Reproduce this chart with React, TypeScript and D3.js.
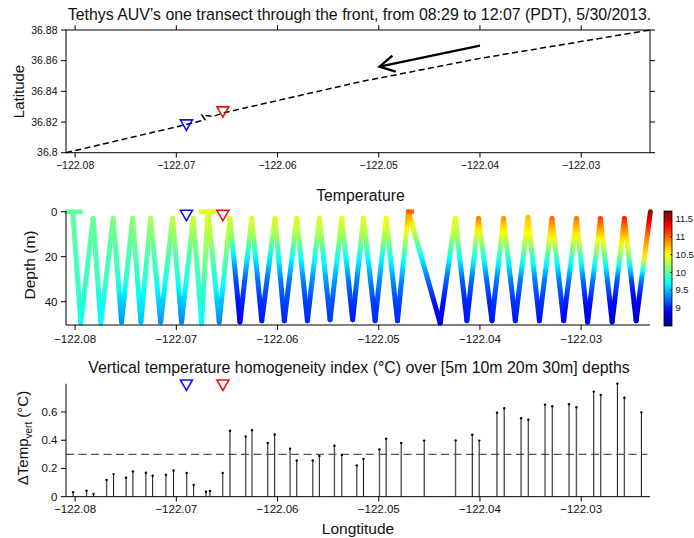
import React from 'react';
import * as d3 from 'd3';

const WIDTH = 694;
const HEIGHT = 538;
const FONT = '"Liberation Sans", Arial, Helvetica, sans-serif';

// shared longitude axis
const LON_DOMAIN = [-122.0809, -122.0232];
const LON_TICKS = [-122.08, -122.07, -122.06, -122.05, -122.04, -122.03];

// panel 1: track map
const LAT_TICKS = [36.8, 36.82, 36.84, 36.86, 36.88];
const TRACK_LON = [-122.0809, -122.069, -122.06717, -122.06747, -122.06638, -122.0654, -122.0518, -122.04, -122.0232];
const TRACK_LAT = [36.8, 36.8184, 36.8215, 36.82458, 36.8236, 36.8259, 36.8463, 36.8615, 36.88];
const ARROW_LON = [-122.04, -122.04993];
const ARROW_LAT = [36.8698, 36.8561];
const MARKER_LON = [-122.069, -122.0654];
const MARKER_LAT = [36.818, 36.8265];
const MARKER_COLORS = ['#1010ee', '#ee1010'];

// panel 2: yo-yo temperature section
const DEPTH_TICKS = [0, 20, 40];
const TEMP_TICKS = [9, 9.5, 10, 10.5, 11, 11.5];
const TEMP_DOMAIN = [8.49, 11.73];
const TEMP_LEVELS = [0, 10, 20, 30, 40, 50];
const PATH_LON = [
  -122.08023, -122.07944, -122.07822, -122.07746, -122.07624, -122.07541, -122.07432, -122.0735,
  -122.07254, -122.07155, -122.07037, -122.06948, -122.06833, -122.0675, -122.06687, -122.06576,
  -122.0647, -122.06371, -122.06255, -122.06156, -122.06025, -122.05933, -122.0581, -122.05705,
  -122.05587, -122.05481, -122.05365, -122.05258, -122.05151, -122.05036, -122.04927, -122.04815,
  -122.04706, -122.04393, -122.04244, -122.04129, -122.04014, -122.03881, -122.03767, -122.03651,
  -122.03525, -122.03413, -122.03288, -122.03173, -122.03047, -122.02936, -122.0281, -122.02694,
  -122.02573, -122.02457, -122.02316,
];
const PATH_DEPTH = [
  0, 49.5, 3, 49.5, 3, 49, 3, 49, 3, 49, 3, 49, 3, 49.5, 0, 49, 3, 49, 3, 48.5, 3, 48.5, 3, 48.5,
  3, 48, 3, 48, 3, 48.5, 3, 48.5, 0, 49.5, 3, 48.5, 3, 48.5, 3, 48.5, 2.5, 48.5, 3, 48.5, 3, 49,
  3, 49, 3, 48.5, 0,
];
// temperature at TEMP_LEVELS for each leg between consecutive path vertices
const LEG_TEMPS = [
  [10.0, 10.0, 9.95, 9.9, 9.85, 9.8],
  [10.05, 10.0, 9.95, 9.9, 9.8, 9.75],
  [10.05, 10.0, 9.95, 9.9, 9.75, 9.7],
  [10.1, 10.05, 9.95, 9.9, 9.75, 9.7],
  [10.15, 10.05, 9.95, 9.85, 9.55, 9.35],
  [10.2, 10.05, 9.95, 9.85, 9.55, 9.35],
  [10.2, 10.1, 9.95, 9.85, 9.65, 9.5],
  [10.25, 10.1, 9.95, 9.85, 9.65, 9.5],
  [10.3, 10.15, 9.95, 9.8, 9.55, 9.35],
  [10.3, 10.15, 9.95, 9.8, 9.55, 9.35],
  [10.35, 10.2, 9.95, 9.8, 9.5, 9.25],
  [10.35, 10.2, 9.95, 9.8, 9.55, 9.3],
  [10.4, 10.2, 10.0, 9.9, 9.8, 9.7],
  [10.45, 10.3, 10.1, 9.95, 9.8, 9.7],
  [10.4, 10.3, 10.0, 9.8, 9.55, 9.35],
  [10.45, 10.3, 10.0, 9.8, 9.5, 9.3],
  [10.45, 10.2, 9.6, 9.15, 8.95, 8.8],
  [10.45, 10.25, 9.7, 9.2, 9.0, 8.85],
  [10.45, 10.25, 9.7, 9.25, 9.05, 8.95],
  [10.45, 10.25, 9.7, 9.25, 9.05, 8.95],
  [10.45, 10.25, 9.75, 9.3, 9.1, 9.0],
  [10.45, 10.25, 9.75, 9.3, 9.1, 9.0],
  [10.45, 10.25, 9.75, 9.3, 9.1, 9.0],
  [10.45, 10.25, 9.75, 9.35, 9.1, 9.0],
  [10.45, 10.25, 9.8, 9.4, 9.15, 9.05],
  [10.45, 10.25, 9.8, 9.4, 9.15, 9.05],
  [10.5, 10.25, 9.75, 9.3, 9.05, 8.95],
  [10.5, 10.25, 9.75, 9.3, 9.05, 8.95],
  [10.5, 10.25, 9.75, 9.35, 9.1, 9.0],
  [10.55, 10.3, 9.75, 9.35, 9.1, 9.0],
  [10.55, 10.3, 9.8, 9.35, 9.1, 9.0],
  [10.95, 10.4, 9.85, 9.35, 9.1, 9.0],
  [10.9, 10.25, 9.7, 9.25, 8.95, 8.85],
  [10.5, 10.3, 9.75, 9.2, 8.95, 8.85],
  [10.5, 10.3, 9.75, 9.2, 9.0, 8.9],
  [11.15, 10.4, 9.8, 9.25, 9.0, 8.95],
  [11.15, 10.4, 9.8, 9.25, 9.0, 8.95],
  [11.0, 10.45, 9.85, 9.3, 9.05, 8.95],
  [11.0, 10.45, 9.85, 9.3, 9.05, 8.95],
  [10.8, 10.5, 9.9, 9.3, 9.05, 8.95],
  [10.8, 10.5, 9.9, 9.3, 9.05, 8.95],
  [11.15, 10.6, 9.9, 9.3, 9.05, 8.9],
  [11.15, 10.6, 9.9, 9.3, 9.05, 8.9],
  [11.1, 10.55, 9.9, 9.3, 9.0, 8.85],
  [11.1, 10.55, 9.9, 9.25, 8.95, 8.75],
  [11.3, 10.65, 10.0, 9.3, 8.95, 8.75],
  [11.3, 10.65, 10.0, 9.3, 8.95, 8.8],
  [11.4, 10.75, 10.1, 9.2, 8.9, 8.75],
  [11.4, 10.75, 10.1, 9.15, 8.8, 8.65],
  [11.65, 11.0, 10.55, 9.3, 8.85, 8.65],
];
const SURFACE_LON_START = [-122.08102, -122.06776, -122.04729];
const SURFACE_LON_END = [-122.07924, -122.06598, -122.0465];
const SURFACE_TEMP = [10.0, 10.4, 11.0];
const SECTION_MARKER_DEPTH = 1.7;

// panel 3: homogeneity index stems
const DT_TICKS = [0, 0.2, 0.4, 0.6];
const THRESHOLD = 0.3;
const STEM_LON = [
  -122.0802, -122.07887, -122.07818, -122.07689, -122.0762, -122.07496, -122.07429, -122.07301,
  -122.07234, -122.07103, -122.07027, -122.06898, -122.06829, -122.06707, -122.06668, -122.06542,
  -122.0647, -122.06315, -122.06252, -122.06097, -122.06028, -122.05876, -122.0581, -122.05652,
  -122.05587, -122.05438, -122.05365, -122.05217, -122.05151, -122.04993, -122.04927, -122.04778,
  -122.04551, -122.04241, -122.04076, -122.04007, -122.03832, -122.0376, -122.03594, -122.03522,
  -122.03357, -122.03285, -122.0312, -122.03047, -122.02876, -122.02807, -122.02642, -122.02573,
  -122.02405,
];
const STEM_VAL = [
  0.031, 0.042, 0.019, 0.118, 0.16, 0.135, 0.179, 0.17, 0.149, 0.156, 0.186, 0.168, 0.083, 0.035,
  0.04, 0.168, 0.467, 0.427, 0.47, 0.38, 0.441, 0.34, 0.257, 0.257, 0.288, 0.361, 0.295, 0.222,
  0.267, 0.335, 0.411, 0.38, 0.397, 0.399, 0.439, 0.397, 0.595, 0.626, 0.555, 0.545, 0.652, 0.64,
  0.654, 0.633, 0.744, 0.72, 0.8, 0.701, 0.597,
];
const STEM_MARKER_VAL = 0.789;

function jet(t: number) {
  const c = (v: number) => Math.max(0, Math.min(1, v));
  const r = c(1.5 - Math.abs(4 * t - 3));
  const g = c(1.5 - Math.abs(4 * t - 2));
  const b = c(1.5 - Math.abs(4 * t - 1));
  return d3.rgb(r * 255, g * 255, b * 255).formatHex();
}

const fmtLon = d3.format('.2f');

function triangle(cx: number, cy: number) {
  const w = 6;
  const h = 5.2;
  return `M${cx - w},${cy - h}L${cx + w},${cy - h}L${cx},${cy + h}Z`;
}

export default function App() {
  const x = d3.scaleLinear().domain(LON_DOMAIN).range([66, 650]);
  const yLat = d3.scaleLinear().domain([36.8, 36.88]).range([152.7, 30]);
  const yDep = d3.scaleLinear().domain([0, 50.36]).range([211.7, 325]);
  const yDt = d3.scaleLinear().domain([0, 0.8]).range([496.7, 383.7]);
  const tNorm = d3.scaleLinear().domain(TEMP_DOMAIN).range([0, 1]).clamp(true);
  const tColor = (v: number) => jet(tNorm(v));
  const yBar = d3.scaleLinear().domain(TEMP_DOMAIN).range([326, 211]);

  const trackLine = d3
    .line<number>()
    .x((d) => x(TRACK_LON[d]))
    .y((d) => yLat(TRACK_LAT[d]))(TRACK_LON.map((_, i) => i));

  // arrow
  const ax0 = x(ARROW_LON[0]);
  const ay0 = yLat(ARROW_LAT[0]);
  const ax1 = x(ARROW_LON[1]);
  const ay1 = yLat(ARROW_LAT[1]);
  const ang = Math.atan2(ay0 - ay1, ax0 - ax1);
  const barb = 17;
  const spread = 0.5;
  const arrowHead = `M${ax1 + barb * Math.cos(ang + spread)},${ay1 + barb * Math.sin(ang + spread)}L${ax1},${ay1}L${ax1 + barb * Math.cos(ang - spread)},${ay1 + barb * Math.sin(ang - spread)}`;

  const legs = LEG_TEMPS.map((temps, i) => {
    const d0 = PATH_DEPTH[i];
    const d1 = PATH_DEPTH[i + 1];
    const tAt = d3.scaleLinear().domain(TEMP_LEVELS).range(temps);
    const stops = d3.range(0, 21).map((k) => {
      const f = k / 20;
      return { offset: f, color: tColor(tAt(d0 + f * (d1 - d0))) };
    });
    return {
      id: `leg-${i}`,
      x1: x(PATH_LON[i]),
      y1: yDep(d0),
      x2: x(PATH_LON[i + 1]),
      y2: yDep(d1),
      stops,
    };
  });

  const barStops = d3.range(0, 41).map((k) => ({ offset: k / 40, color: jet(1 - k / 40) }));

  const axisText = { fontFamily: FONT, fill: '#111' } as const;

  return (
    <svg
      width={WIDTH}
      height={HEIGHT}
      style={{ position: 'absolute', left: 0, top: 0, background: '#fff' }}
      fontFamily={FONT}
    >
      <defs>
        {legs.map((l) => (
          <linearGradient
            key={l.id}
            id={l.id}
            gradientUnits="userSpaceOnUse"
            x1={l.x1}
            y1={l.y1}
            x2={l.x2}
            y2={l.y2}
          >
            {l.stops.map((s, k) => (
              <stop key={k} offset={s.offset} stopColor={s.color} />
            ))}
          </linearGradient>
        ))}
        <linearGradient id="cbar" x1="0" y1="0" x2="0" y2="1">
          {barStops.map((s, k) => (
            <stop key={k} offset={s.offset} stopColor={s.color} />
          ))}
        </linearGradient>
      </defs>

      {/* ---------- panel 1: track ---------- */}
      <text x={359.5} y={19.8} textAnchor="middle" fontSize={15.9} {...axisText}>
        Tethys AUV’s one transect through the front, from 08:29 to 12:07 (PDT), 5/30/2013.
      </text>
      <rect x={66} y={30} width={584} height={122.7} fill="none" stroke="#000" strokeWidth={1} />
      {LON_TICKS.map((t) => (
        <g key={`t1x-${t}`}>
          <line x1={x(t)} x2={x(t)} y1={152.7} y2={157.5} stroke="#000" />
          <line x1={x(t)} x2={x(t)} y1={30} y2={25.2} stroke="#000" />
          <text x={x(t)} y={169} textAnchor="middle" fontSize={10.5} {...axisText}>
            {fmtLon(t)}
          </text>
        </g>
      ))}
      {LAT_TICKS.map((t) => (
        <g key={`t1y-${t}`}>
          <line x1={61} x2={66} y1={yLat(t)} y2={yLat(t)} stroke="#000" />
          <line x1={650} x2={655} y1={yLat(t)} y2={yLat(t)} stroke="#000" />
          <text x={57.5} y={yLat(t)} dy="0.35em" textAnchor="end" fontSize={10.5} {...axisText}>
            {String(t)}
          </text>
        </g>
      ))}
      <text
        transform="translate(24,91.5) rotate(-90)"
        textAnchor="middle"
        fontSize={15}
        {...axisText}
      >
        Latitude
      </text>
      <path d={trackLine ?? ''} fill="none" stroke="#000" strokeWidth={1.5} strokeDasharray="6,3.5" />
      <line x1={ax0} y1={ay0} x2={ax1} y2={ay1} stroke="#000" strokeWidth={2.3} />
      <path d={arrowHead} fill="none" stroke="#000" strokeWidth={2.3} strokeLinejoin="miter" />
      {MARKER_LON.map((lon, i) => (
        <path
          key={`m1-${i}`}
          d={triangle(x(lon), yLat(MARKER_LAT[i]))}
          fill="none"
          stroke={MARKER_COLORS[i]}
          strokeWidth={1.6}
        />
      ))}

      {/* ---------- panel 2: temperature section ---------- */}
      <text x={360.5} y={200.7} textAnchor="middle" fontSize={15.8} {...axisText}>
        Temperature
      </text>
      {legs.map((l) => (
        <line
          key={l.id}
          x1={l.x1}
          y1={l.y1}
          x2={l.x2}
          y2={l.y2}
          stroke={`url(#${l.id})`}
          strokeWidth={5}
          strokeLinecap="round"
        />
      ))}
      {SURFACE_TEMP.map((tv, i) => (
        <line
          key={`surf-${i}`}
          x1={x(SURFACE_LON_START[i])}
          x2={x(SURFACE_LON_END[i])}
          y1={yDep(0)}
          y2={yDep(0)}
          stroke={tColor(tv)}
          strokeWidth={4.5}
        />
      ))}
      {MARKER_LON.map((lon, i) => (
        <path
          key={`m2-${i}`}
          d={triangle(x(lon), yDep(SECTION_MARKER_DEPTH))}
          fill="none"
          stroke={MARKER_COLORS[i]}
          strokeWidth={1.6}
        />
      ))}
      <line x1={66} x2={66} y1={211} y2={325} stroke="#000" />
      <line x1={66} x2={650} y1={325} y2={325} stroke="#000" />
      {LON_TICKS.map((t) => (
        <g key={`t2x-${t}`}>
          <line x1={x(t)} x2={x(t)} y1={325} y2={330} stroke="#000" />
          <text x={x(t)} y={343} textAnchor="middle" fontSize={11.5} {...axisText}>
            {fmtLon(t)}
          </text>
        </g>
      ))}
      {DEPTH_TICKS.map((t) => (
        <g key={`t2y-${t}`}>
          <line x1={61} x2={66} y1={yDep(t)} y2={yDep(t)} stroke="#000" />
          <text x={57.5} y={yDep(t)} dy="0.35em" textAnchor="end" fontSize={11.5} {...axisText}>
            {String(t)}
          </text>
        </g>
      ))}
      <text
        transform="translate(35,265) rotate(-90)"
        textAnchor="middle"
        fontSize={15.5}
        {...axisText}
      >
        Depth (m)
      </text>
      {/* colorbar */}
      <rect x={664} y={211} width={8} height={115} fill="url(#cbar)" stroke="#000" strokeWidth={0.8} />
      {TEMP_TICKS.map((t) => (
        <g key={`cb-${t}`}>
          <line x1={670} x2={672} y1={yBar(t)} y2={yBar(t)} stroke="#000" strokeWidth={0.8} />
          <text x={675.5} y={yBar(t)} dy="0.35em" fontSize={9.4} {...axisText}>
            {String(t)}
          </text>
        </g>
      ))}

      {/* ---------- panel 3: homogeneity stems ---------- */}
      <text x={359} y={373} textAnchor="middle" fontSize={15.9} {...axisText}>
        Vertical temperature homogeneity index (°C) over [5m 10m 20m 30m] depths
      </text>
      <line
        x1={66}
        x2={x(STEM_LON[STEM_LON.length - 1]) + 6}
        y1={yDt(THRESHOLD)}
        y2={yDt(THRESHOLD)}
        stroke="#555"
        strokeWidth={1.3}
        strokeDasharray="8,4.5"
      />
      {STEM_LON.map((lon, i) => (
        <g key={`stem-${i}`}>
          <line
            x1={x(lon)}
            x2={x(lon)}
            y1={yDt(0)}
            y2={yDt(STEM_VAL[i])}
            stroke={i % 2 === 0 ? '#111' : '#555'}
            strokeWidth={i % 2 === 0 ? 1 : 1.4}
          />
          <circle cx={x(lon)} cy={yDt(STEM_VAL[i])} r={1.2} fill="#000" />
        </g>
      ))}
      {MARKER_LON.map((lon, i) => (
        <path
          key={`m3-${i}`}
          d={triangle(x(lon), yDt(STEM_MARKER_VAL))}
          fill="none"
          stroke={MARKER_COLORS[i]}
          strokeWidth={1.6}
        />
      ))}
      <line x1={66} x2={66} y1={383.7} y2={496.7} stroke="#000" />
      <line x1={66} x2={650} y1={496.7} y2={496.7} stroke="#000" />
      {LON_TICKS.map((t) => (
        <g key={`t3x-${t}`}>
          <line x1={x(t)} x2={x(t)} y1={496.7} y2={501.5} stroke="#000" />
          <text x={x(t)} y={513} textAnchor="middle" fontSize={11.5} {...axisText}>
            {fmtLon(t)}
          </text>
        </g>
      ))}
      {DT_TICKS.map((t) => (
        <g key={`t3y-${t}`}>
          <line x1={61} x2={66} y1={yDt(t)} y2={yDt(t)} stroke="#000" />
          <text x={57.5} y={yDt(t)} dy="0.35em" textAnchor="end" fontSize={11.5} {...axisText}>
            {String(t)}
          </text>
        </g>
      ))}
      <text
        transform="translate(28,438) rotate(-90)"
        textAnchor="middle"
        fontSize={15}
        {...axisText}
      >
        ΔTemp
        <tspan fontSize={10} dy={3.5}>
          vert
        </tspan>
        <tspan dy={-3.5}> (°C)</tspan>
      </text>
      <text x={358} y={533.5} textAnchor="middle" fontSize={15.5} {...axisText}>
        Longtitude
      </text>
    </svg>
  );
}
